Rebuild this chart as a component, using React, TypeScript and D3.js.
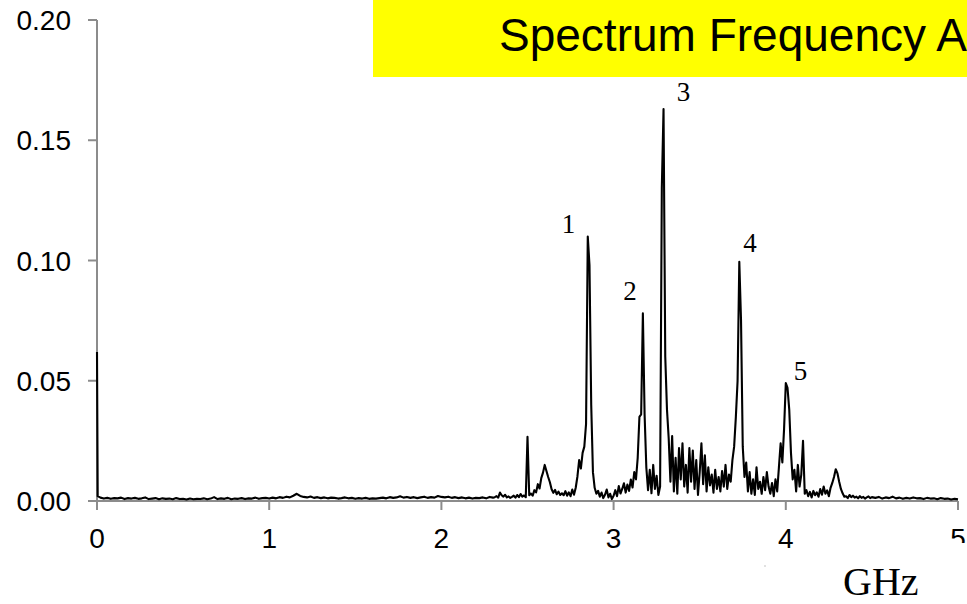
import React from "react";
import * as d3 from "d3";

// ---------- text / ticks ----------
const titleText = "Spectrum Frequency Analysis";
const xAxisTitle = "GHz";
const xTicks = [0, 1, 2, 3, 4, 5];
const yTicks = [0, 0.05, 0.1, 0.15, 0.2];
const yTickLabels = ["0.00", "0.05", "0.10", "0.15", "0.20"];

// ---------- spectrum data (amplitude in units of 1e-3) ----------
// DC spike at 0 GHz
const dcFreqs = [0, 0.004];
const dcMilli = [62, 2.0];

// 0.02 .. 2.30 GHz, every 0.02 GHz
const lowBandStart = 0.02;
const lowBandStep = 0.02;
const lowBandMilli = [
  1.4, 1.0, 1.3, 0.9, 1.2, 1.1, 1.4, 0.8, 1.2, 1.0,
  1.3, 0.9, 1.1, 1.5, 0.8, 1.0, 1.2, 0.7, 1.1, 0.9,
  1.0, 0.7, 1.2, 0.8, 0.9, 0.6, 1.0, 0.7, 0.9, 0.8,
  1.1, 0.7, 1.0, 1.6, 0.8, 1.1, 0.9, 1.3, 0.7, 1.0,
  0.9, 1.2, 0.8, 1.1, 1.0, 1.4, 0.9, 1.2, 1.3, 1.0,
  1.4, 1.1, 1.6, 1.3, 1.8, 1.5, 2.2, 3.0, 2.1, 1.7,
  1.5, 1.9, 1.3, 1.6, 1.2, 1.5, 1.1, 1.4, 1.3, 1.0,
  1.2, 1.5, 1.1, 1.3, 0.9, 1.2, 1.0, 1.3, 0.9, 1.1,
  1.0, 1.2, 1.4, 1.1, 1.6, 1.3, 1.5, 2.0, 1.4, 1.7,
  1.3, 1.6, 1.2, 1.5, 1.8, 1.3, 1.6, 1.4, 2.1, 1.7,
  1.5, 1.8, 1.3, 1.6, 1.2, 1.5, 1.1, 1.4, 1.0, 1.3,
  1.2, 1.5, 1.1, 1.7, 1.4,
];

// 2.31 .. 4.50 GHz, every 0.01 GHz
const peakBandStart = 2.31;
const peakBandStep = 0.01;
const peakBandMilli = [
  1.6, 2.0, 1.4, 3.5, 2.4, 1.8, 2.6, 1.5, 1.9, 1.3,
  1.7, 2.2, 1.4, 2.5, 1.6, 2.9, 1.8, 2.3, 1.6, 26.7,
  2.4, 3.1, 2.2, 4.5, 3.6, 7.0, 5.2, 9.5, 11.8, 15.0,
  12.5, 10.0, 7.8, 4.9, 3.4, 4.6, 2.8, 3.9, 2.5, 3.2,
  2.4, 4.1, 2.2, 3.6, 2.0, 4.8, 2.6, 5.5, 10.2, 17.0,
  13.5, 20.0, 22.6, 32.0, 110.0, 98.0, 40.0, 12.0, 5.5, 3.0,
  4.2, 1.8, 3.5, 1.2, 2.6, 4.8, 1.5, 3.0, 0.8, 2.2,
  4.5, 2.0, 6.2, 3.1, 5.0, 7.4, 3.5, 6.8, 4.2, 8.9,
  5.6, 12.0, 9.0, 18.0, 35.0, 36.0, 78.0, 36.0, 14.0, 4.5,
  13.0, 3.2, 15.0, 5.0, 10.5, 2.5, 6.0, 130.0, 163.0, 60.0,
  38.0, 26.0, 8.0, 27.0, 4.0, 18.0, 3.0, 22.0, 9.0, 24.0,
  6.0, 15.0, 3.5, 22.0, 8.0, 21.0, 5.0, 17.0, 2.5, 12.0,
  24.0, 7.0, 19.0, 4.0, 14.0, 6.5, 11.0, 3.5, 13.0, 5.0,
  10.0, 4.0, 12.5, 6.0, 15.0, 5.0, 11.0, 8.0, 17.0, 22.6,
  35.0, 50.0, 99.5, 75.0, 22.6, 10.0, 16.0, 4.0, 12.0, 3.0,
  9.0, 2.5, 14.0, 5.0, 8.0, 3.0, 10.0, 4.5, 12.0, 6.0,
  3.0, 7.5, 2.0, 9.0, 4.0, 14.0, 24.0, 16.0, 30.0, 49.0,
  47.0, 38.0, 20.0, 9.0, 13.0, 4.0, 15.0, 6.0, 11.0, 25.0,
  3.0, 4.5, 2.0, 3.8, 1.5, 4.2, 2.4, 3.6, 1.8, 5.0,
  2.6, 6.0, 3.0, 4.4, 2.0, 5.5, 7.5, 10.0, 13.2, 11.5,
  8.0, 5.0, 3.2, 1.8, 2.0, 1.2, 2.5, 1.6, 2.2, 1.4,
  1.8, 1.1, 2.0, 1.3, 1.7, 1.0, 1.5, 1.9, 1.2, 1.6,
];

// 4.52 .. 5.00 GHz, every 0.02 GHz
const highBandStart = 4.52;
const highBandStep = 0.02;
const highBandMilli = [
  1.3, 1.7, 1.0, 1.5, 1.2, 1.8, 1.1, 1.4, 0.9, 1.3,
  1.0, 1.5, 1.1, 1.2, 0.8, 1.3, 1.0, 1.1, 0.7, 1.2,
  0.9, 1.0, 0.6, 0.9, 0.7,
];

// peak annotations (label anchor in data units)
const peakLabels = ["1", "2", "3", "4", "5"];
const peakLabelGHz = [2.738, 3.095, 3.406, 3.792, 4.085];
const peakLabelValue = [0.1114, 0.0835, 0.1664, 0.1035, 0.0503];

type Pt = [number, number];

function sampled(start: number, step: number, milli: number[]): Pt[] {
  return milli.map((v, i) => [start + i * step, v / 1000] as Pt);
}

const spectrum: Pt[] = [
  ...dcFreqs.map((f, i) => [f, dcMilli[i] / 1000] as Pt),
  ...sampled(lowBandStart, lowBandStep, lowBandMilli),
  ...sampled(peakBandStart, peakBandStep, peakBandMilli),
  ...sampled(highBandStart, highBandStep, highBandMilli),
];

const W = 967;
const H = 604;
const AXIS = "#8c8c8c";
const SANS = "'Liberation Sans', Arial, Helvetica, sans-serif";
const SERIF = "'Liberation Serif', 'Times New Roman', serif";

export default function App() {
  const x = d3.scaleLinear().domain([0, 5]).range([97, 958]);
  const y = d3.scaleLinear().domain([0, 0.2]).range([501, 20]);
  const line = d3
    .line<Pt>()
    .x((d) => x(d[0]))
    .y((d) => y(d[1]));
  const path = line(spectrum) || "";

  return (
    <svg
      width={W}
      height={H}
      viewBox={`0 0 ${W} ${H}`}
      style={{ position: "absolute", left: 0, top: 0, background: "#fff" }}
    >
      <defs>
        <clipPath id="lastTickClip">
          <rect x={0} y={0} width={W} height={543} />
        </clipPath>
      </defs>
      <rect x={0} y={0} width={W} height={H} fill="#fff" />

      {/* title banner */}
      <rect x={373} y={0} width={W - 373} height={77} fill="#ffff00" />
      <text x={499} y={51} fontFamily={SANS} fontSize={46} fill="#000">
        {titleText}
      </text>

      {/* y axis */}
      <line x1={x(0)} x2={x(0)} y1={y(0.2)} y2={y(0) + 8} stroke={AXIS} strokeWidth={2} />
      {yTicks.map((t, i) => (
        <g key={"y" + i}>
          <line x1={x(0) - 9} x2={x(0)} y1={y(t)} y2={y(t)} stroke={AXIS} strokeWidth={2} />
          <text
            x={71}
            y={y(t) + 10}
            textAnchor="end"
            fontFamily={SANS}
            fontSize={28}
            fill="#000"
          >
            {yTickLabels[i]}
          </text>
        </g>
      ))}

      {/* x axis */}
      <line x1={x(0)} x2={x(5)} y1={y(0)} y2={y(0)} stroke={AXIS} strokeWidth={2} />
      {xTicks.map((t, i) => (
        <g key={"x" + i}>
          <line x1={x(t)} x2={x(t)} y1={y(0)} y2={y(0) + 9} stroke={AXIS} strokeWidth={2} />
          <text
            x={x(t)}
            y={548}
            textAnchor="middle"
            fontFamily={SANS}
            fontSize={28}
            fill="#000"
            clipPath={i === xTicks.length - 1 ? "url(#lastTickClip)" : undefined}
          >
            {String(t)}
          </text>
        </g>
      ))}

      {/* spectrum */}
      <path d={path} fill="none" stroke="#000" strokeWidth={2.1} strokeLinejoin="round" />

      {/* peak labels */}
      {peakLabels.map((lab, i) => (
        <text
          key={"p" + i}
          x={x(peakLabelGHz[i])}
          y={y(peakLabelValue[i])}
          textAnchor="middle"
          fontFamily={SERIF}
          fontSize={27}
          fill="#000"
        >
          {lab}
        </text>
      ))}

      {/* axis unit */}
      <text x={843} y={595} fontFamily={SERIF} fontSize={40} fill="#000">
        {xAxisTitle}
      </text>
      <circle cx={765} cy={566} r={0.8} fill="#bbb" />
    </svg>
  );
}
